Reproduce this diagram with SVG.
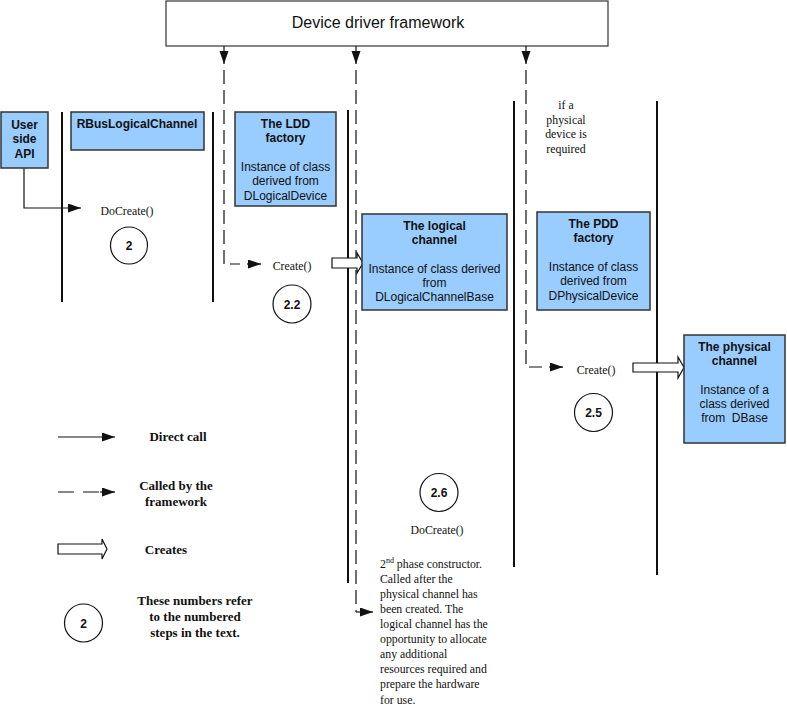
<svg xmlns="http://www.w3.org/2000/svg" width="787" height="709" viewBox="0 0 787 709">
<style>
.box{fill:#99ccff;stroke:#333;stroke-width:1.5}
.life{stroke:#111;stroke-width:2;fill:none}
.dash{stroke:#111;stroke-width:1.2;stroke-dasharray:14 6;fill:none}
.solid{stroke:#111;stroke-width:1.2;fill:none}
.blk{fill:#fff;stroke:#111;stroke-width:1.2}
.circ{fill:#fff;stroke:#111;stroke-width:1.2}
.t{font-family:"Liberation Sans",Arial,sans-serif;font-size:12px;fill:#111;text-anchor:middle}
.b{font-weight:bold}
.s{font-family:"Liberation Serif","Times New Roman",serif;font-size:11.8px;fill:#111}
.sm{text-anchor:middle}
.lg{font-family:"Liberation Serif","Times New Roman",serif;font-size:13px;font-weight:bold;fill:#111;text-anchor:middle}
</style>
<defs>
<marker id="ah" markerUnits="userSpaceOnUse" markerWidth="14" markerHeight="10" refX="13" refY="4.5" orient="auto">
<path d="M0,0 L13,4.5 L0,9 z" fill="#111"/>
</marker>
</defs>
<rect width="787" height="709" fill="#fff"/>

<g id="framework">
<rect x="166" y="1" width="442" height="45" fill="#fff" stroke="#333" stroke-width="1.2"/>
<text x="378" y="28" class="t" style="font-size:16px">Device driver framework</text>
</g>

<g id="lifelines">
<line class="life" x1="62" y1="112" x2="62" y2="302"/>
<line class="life" x1="213" y1="112" x2="213" y2="302"/>
<line class="life" x1="348" y1="110" x2="348" y2="583"/>
<line class="life" x1="514" y1="101" x2="514" y2="567"/>
<line class="life" x1="657" y1="101" x2="657" y2="575"/>
</g>

<g id="connectors">
<line class="solid" x1="224" y1="46" x2="224" y2="64" marker-end="url(#ah)"/>
<line class="solid" x1="356" y1="46" x2="356" y2="64" marker-end="url(#ah)"/>
<line class="solid" x1="526" y1="46" x2="526" y2="64" marker-end="url(#ah)"/>
<path class="dash" d="M224,70 V264 H240"/>
<line class="solid" x1="247" y1="264" x2="261" y2="264" marker-end="url(#ah)"/>
<path class="dash" d="M356,70 V612"/>
<line class="solid" x1="356" y1="612" x2="373" y2="612" marker-end="url(#ah)"/>
<path class="dash" d="M526,70 V367 H542"/>
<line class="solid" x1="549" y1="367" x2="563" y2="367" marker-end="url(#ah)"/>
<path class="solid" d="M24,168 V208 H81" marker-end="url(#ah)"/>
<polygon class="blk" points="332,258 357,258 357,253 363,263 357,273 357,268 332,268"/>
<polygon class="blk" points="633,363 678,363 678,357 684,367.5 678,378 678,372 633,372"/>
</g>

<g id="user-api">
<rect class="box" x="1" y="112" width="47" height="56"/>
<text class="t b" x="24.5" y="129">User</text>
<text class="t b" x="24.5" y="143">side</text>
<text class="t b" x="24.5" y="158">API</text>
</g>

<g id="rbus">
<rect class="box" x="71" y="112" width="133" height="38"/>
<text class="t b" x="137" y="128">RBusLogicalChannel</text>
</g>

<g id="ldd-factory">
<rect class="box" x="235" y="112" width="101" height="94"/>
<text class="t b" x="285.5" y="128">The LDD</text>
<text class="t b" x="285.5" y="142">factory</text>
<text class="t" x="285.5" y="171">Instance of class</text>
<text class="t" x="285.5" y="185">derived from</text>
<text class="t" x="285.5" y="200">DLogicalDevice</text>
</g>

<g id="logical-channel">
<rect class="box" x="362" y="214" width="145" height="96"/>
<text class="t b" x="434.5" y="230">The logical</text>
<text class="t b" x="434.5" y="244">channel</text>
<text class="t" x="434.5" y="273">Instance of class derived</text>
<text class="t" x="434.5" y="287">from</text>
<text class="t" x="434.5" y="301">DLogicalChannelBase</text>
</g>

<g id="pdd-factory">
<rect class="box" x="537" y="212" width="113" height="98"/>
<text class="t b" x="593.5" y="228">The PDD</text>
<text class="t b" x="593.5" y="242">factory</text>
<text class="t" x="593.5" y="271">Instance of class</text>
<text class="t" x="593.5" y="285">derived from</text>
<text class="t" x="593.5" y="300">DPhysicalDevice</text>
</g>

<g id="physical-channel">
<rect class="box" x="684" y="335" width="101" height="108"/>
<text class="t b" x="734.5" y="351">The physical</text>
<text class="t b" x="734.5" y="365">channel</text>
<text class="t" x="734.5" y="394">Instance of a</text>
<text class="t" x="734.5" y="408">class derived</text>
<text class="t" x="734.5" y="422">from&#160; DBase</text>
</g>

<g id="labels">
<text class="s sm" x="566" y="109">if a</text>
<text class="s sm" x="566" y="124">physical</text>
<text class="s sm" x="566" y="138">device is</text>
<text class="s sm" x="566" y="153">required</text>
<text class="s sm" x="127" y="215">DoCreate()</text>
<text class="s sm" x="292" y="270">Create()</text>
<text class="s sm" x="596" y="374">Create()</text>
<text class="s sm" x="437" y="534">DoCreate()</text>
<text class="s" x="380" y="568">2<tspan dy="-5" font-size="8">nd</tspan><tspan dy="5"> phase constructor.</tspan></text>
<text class="s" x="380" y="583">Called after the</text>
<text class="s" x="380" y="598">physical channel has</text>
<text class="s" x="380" y="613">been created. The</text>
<text class="s" x="380" y="628">logical channel has the</text>
<text class="s" x="380" y="643">opportunity to allocate</text>
<text class="s" x="380" y="658">any additional</text>
<text class="s" x="380" y="673">resources required and</text>
<text class="s" x="380" y="688">prepare the hardware</text>
<text class="s" x="380" y="704">for use.</text>
</g>

<g id="steps">
<circle class="circ" cx="129" cy="245.5" r="18.5"/>
<text class="t b" x="129" y="250">2</text>
<circle class="circ" cx="292" cy="304" r="19"/>
<text class="t b" x="292" y="308.5">2.2</text>
<circle class="circ" cx="593.5" cy="412.5" r="19"/>
<text class="t b" x="593.5" y="417">2.5</text>
<circle class="circ" cx="439" cy="492.5" r="19"/>
<text class="t b" x="439" y="497">2.6</text>
</g>

<g id="legend">
<line class="solid" x1="58" y1="437" x2="115" y2="437" marker-end="url(#ah)"/>
<text class="lg" x="178" y="441">Direct call</text>
<line class="solid" x1="58" y1="492" x2="100" y2="492" style="stroke-dasharray:16 9"/>
<line class="solid" x1="100" y1="492" x2="115" y2="492" marker-end="url(#ah)"/>
<text class="lg" x="176" y="490">Called by the</text>
<text class="lg" x="176" y="506">framework</text>
<polygon class="blk" points="58,544 102,544 102,539 107,549 102,559 102,554 58,554"/>
<text class="lg" x="166" y="554">Creates</text>
<circle class="circ" cx="83.5" cy="623" r="19"/>
<text class="t b" x="83.5" y="627.5">2</text>
<text class="lg" x="195" y="605">These numbers refer</text>
<text class="lg" x="195" y="621">to the numbered</text>
<text class="lg" x="195" y="637">steps in the text.</text>
</g>
</svg>
